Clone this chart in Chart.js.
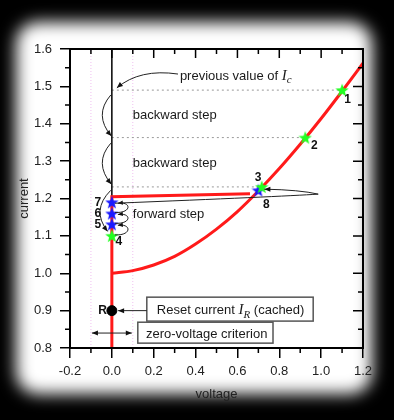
<!DOCTYPE html>
<html>
<head>
<meta charset="utf-8">
<script src="https://cdn.jsdelivr.net/npm/chart.js@4.4.0/dist/chart.umd.min.js"></script>
<style>
  html, body { margin: 0; padding: 0; background: #000; overflow: hidden; }
  #glow { position: absolute; left: 16px; top: 22px; width: 356px; height: 372px; background: #fff; border-radius: 22px; filter: blur(8px); }
  #wrap { position: absolute; left: 0; top: 0; width: 394px; height: 420px; }
</style>
</head>
<body>
<div id="glow"></div>
<div id="wrap"><canvas id="ivChart" width="394" height="420"></canvas></div>
<script>
// Axis ticks
const xTicks = [-0.2, 0.0, 0.2, 0.4, 0.6, 0.8, 1.0, 1.2];
const yTicks = [0.8, 0.9, 1.0, 1.1, 1.2, 1.3, 1.4, 1.5, 1.6];

// Red I-V: zero-voltage branch, then the jump across
const branchV = [0.0, 0.0, 0.66];
const branchI = [0.8, 1.205, 1.213];

// Red I-V: resistive branch
const curveV = [0.0, 0.1, 0.2, 0.3, 0.4, 0.5, 0.6, 0.7, 0.8, 0.9, 1.0, 1.1, 1.2];
const curveI = [1.0, 1.007, 1.022, 1.045, 1.078, 1.118, 1.165, 1.22, 1.28, 1.345, 1.414, 1.487, 1.562];

// Black line above the jump
const upperV = [0.0, 0.0];
const upperI = [1.205, 1.6];

// Steps of the search
const greenLabels = ['1', '2', '3', '4'];
const greenV = [1.1, 0.924, 0.716, 0.0];
const greenI = [1.49, 1.363, 1.231, 1.10];
const blueLabels = ['5', '6', '7', '8'];
const blueV = [0.0, 0.0, 0.0, 0.70];
const blueI = [1.131, 1.16, 1.19, 1.222];

// Reset current point
const resetV = [0.0];
const resetI = [0.9];

// Zero-voltage criterion band
const bandV = [-0.1, 0.1];

const pts = (xs, ys) => xs.map((x, i) => ({ x: x, y: ys[i] }));

function starImage(color) {
    const c = document.createElement('canvas');
    c.width = 14; c.height = 14;
    const g = c.getContext('2d');
    g.beginPath();
    for (let k = 0; k < 10; k++) {
        const r = k % 2 === 0 ? 7 : 2.9;
        const a = -Math.PI / 2 + k * Math.PI / 5;
        g.lineTo(7 + r * Math.cos(a), 7.6 + r * Math.sin(a));
    }
    g.closePath();
    g.fillStyle = color;
    g.fill();
    return c;
}
const greenStar = starImage('#22ff22');
const blueStar = starImage('#1a1aff');

function head(ctx, x, y, fx, fy, len, w) {
    const a = Math.atan2(y - fy, x - fx);
    ctx.beginPath();
    ctx.moveTo(x, y);
    ctx.lineTo(x - len * Math.cos(a) + w * Math.sin(a), y - len * Math.sin(a) - w * Math.cos(a));
    ctx.lineTo(x - len * Math.cos(a) - w * Math.sin(a), y - len * Math.sin(a) + w * Math.cos(a));
    ctx.closePath();
    ctx.fill();
}

function richText(ctx, x, y, parts) {
    ctx.textBaseline = 'alphabetic';
    ctx.textAlign = 'left';
    for (const p of parts) {
        ctx.font = p.font;
        ctx.fillText(p.t, x, y + (p.dy || 0));
        x += ctx.measureText(p.t).width;
    }
    return x;
}

const sans = '13px "Liberation Sans", Arial, sans-serif';
const italI = 'italic 15px "Liberation Serif", "Times New Roman", serif';
const italSub = 'italic 11px "Liberation Serif", "Times New Roman", serif';

// frame, mirrored and minor ticks
const framePlugin = {
    id: 'frame',
    afterDraw(chart) {
        const { ctx, chartArea: a, scales: { x, y } } = chart;
        ctx.save();
        ctx.strokeStyle = '#000';
        ctx.lineWidth = 2;
        ctx.strokeRect(a.left, a.top, a.right - a.left, a.bottom - a.top);
        ctx.lineWidth = 1.5;
        ctx.beginPath();
        xTicks.forEach((v, i) => {
            const px = x.getPixelForValue(v);
            ctx.moveTo(px, a.top); ctx.lineTo(px, a.top + 9);
            if (i > 0) {
                const m = x.getPixelForValue((v + xTicks[i - 1]) / 2);
                ctx.moveTo(m, a.top); ctx.lineTo(m, a.top + 5);
                ctx.moveTo(m, a.bottom); ctx.lineTo(m, a.bottom + 5);
            }
        });
        yTicks.forEach((v, i) => {
            const py = y.getPixelForValue(v);
            ctx.moveTo(a.right, py); ctx.lineTo(a.right - 10, py);
            if (i > 0) {
                const m = y.getPixelForValue((v + yTicks[i - 1]) / 2);
                ctx.moveTo(a.right, m); ctx.lineTo(a.right - 5, m);
                ctx.moveTo(a.left, m); ctx.lineTo(a.left - 5, m);
            }
        });
        ctx.stroke();
        ctx.restore();
    }
};

// text, boxes and arrows
const notesPlugin = {
    id: 'notes',
    afterDatasetsDraw(chart) {
        const { ctx, scales: { x, y } } = chart;
        const X = v => x.getPixelForValue(v);
        const Y = v => y.getPixelForValue(v);
        ctx.save();
        ctx.fillStyle = '#111';
        ctx.strokeStyle = '#333';
        ctx.lineWidth = 1;

        // step labels
        ctx.font = 'bold 12px "Liberation Sans", Arial, sans-serif';
        ctx.textAlign = 'center';
        ctx.textBaseline = 'middle';
        const gOff = [[5.5, 10], [9, 8], [-3.5, -9], [7, 5.5]];
        greenLabels.forEach((t, i) => ctx.fillText(t, X(greenV[i]) + gOff[i][0], Y(greenI[i]) + gOff[i][1]));
        const bOff = [[-14, 0], [-14, 0], [-14, 0], [8, 14]];
        blueLabels.forEach((t, i) => ctx.fillText(t, X(blueV[i]) + bOff[i][0], Y(blueI[i]) + bOff[i][1]));
        ctx.textAlign = 'right';
        ctx.fillText('R', X(resetV[0]) - 5, Y(resetI[0]));

        // plain labels
        ctx.fillStyle = '#1a1a1a';
        richText(ctx, X(0.325), Y(1.530) + 5, [
            { t: 'previous value of ', font: sans },
            { t: 'I', font: italI },
            { t: 'c', font: italSub, dy: 3 }
        ]);
        richText(ctx, X(0.1), Y(1.426) + 5, [{ t: 'backward step', font: sans }]);
        richText(ctx, X(0.1), Y(1.297) + 5, [{ t: 'backward step', font: sans }]);
        richText(ctx, X(0.1), Y(1.161) + 5, [{ t: 'forward step', font: sans }]);

        // boxes
        ctx.strokeStyle = '#555';
        ctx.lineWidth = 1.5;
        const box = (v0, v1, i0, i1) => {
            ctx.fillStyle = '#fff';
            ctx.fillRect(X(v0), Y(i0), X(v1) - X(v0), Y(i1) - Y(i0));
            ctx.strokeRect(X(v0), Y(i0), X(v1) - X(v0), Y(i1) - Y(i0));
        };
        box(0.167, 0.962, 0.936, 0.872);
        box(0.124, 0.770, 0.869, 0.813);
        ctx.fillStyle = '#1a1a1a';
        richText(ctx, X(0.215), Y(0.904) + 5, [
            { t: 'Reset current ', font: sans },
            { t: 'I', font: italI },
            { t: 'R', font: italSub, dy: 4 },
            { t: ' (cached)', font: sans }
        ]);
        richText(ctx, X(0.163), Y(0.841) + 5, [{ t: 'zero-voltage criterion', font: sans }]);

        // arrows
        ctx.strokeStyle = '#222';
        ctx.fillStyle = '#111';
        ctx.lineWidth = 1;
        const ry = Y(resetI[0]);
        ctx.beginPath(); ctx.moveTo(X(0.167), ry); ctx.lineTo(X(0.03), ry); ctx.stroke();
        head(ctx, X(0.03), ry, X(0.1), ry, 6, 2.5);
        const zy = Y(0.84);
        ctx.beginPath(); ctx.moveTo(X(bandV[0]) + 1, zy); ctx.lineTo(X(bandV[1]) - 1, zy); ctx.stroke();
        head(ctx, X(bandV[0]) + 1, zy, X(0), zy, 6, 2.5);
        head(ctx, X(bandV[1]) - 1, zy, X(0), zy, 6, 2.5);

        const quad = (s, c, e) => {
            ctx.beginPath();
            ctx.moveTo(X(s[0]), Y(s[1]));
            ctx.quadraticCurveTo(X(c[0]), Y(c[1]), X(e[0]), Y(e[1]));
            ctx.stroke();
            head(ctx, X(e[0]), Y(e[1]), X(c[0]), Y(c[1]), 6, 2.5);
        };
        quad([0.316, 1.533], [0.134, 1.548], [0.024, 1.496]);
        quad([-0.005, 1.477], [-0.088, 1.423], [-0.002, 1.367]);
        quad([-0.005, 1.348], [-0.088, 1.295], [-0.002, 1.238]);
        quad([-0.005, 1.222], [-0.1, 1.169], [-0.02, 1.112]);

        // small forward loops between stars 4 -> 5 -> 6 -> 7
        const loopI = [greenI[3], blueI[0], blueI[1], blueI[2]];
        for (let k = 0; k < 3; k++) {
            const y0 = Y(loopI[k]) - 1, y1 = Y(loopI[k + 1]) + 1;
            const x0 = X(0) + 3;
            ctx.beginPath();
            ctx.moveTo(x0, y0);
            ctx.bezierCurveTo(x0 + 17, y0 + 1, x0 + 17, y1 - 2, x0 + 3, y1);
            ctx.stroke();
            head(ctx, x0 + 3, y1, x0 + 12, y1 - 1, 5, 2.2);
        }

        // long loop from 7 out and back to 8
        const sx = X(0) + 3, sy = Y(blueI[2]) + 1;
        const tx = X(0.986), ty = Y(1.2117);
        const ex = X(blueV[3]) + 6, ey = Y(1.225);
        ctx.beginPath();
        ctx.moveTo(sx, sy);
        ctx.quadraticCurveTo(X(0.8), Y(1.205), tx, ty);
        ctx.quadraticCurveTo(X(0.9), Y(1.223), ex, ey);
        ctx.stroke();
        head(ctx, ex, ey, ex + 10, ey, 6, 2.5);
        ctx.restore();
    }
};

const tickFont = { family: '"Liberation Sans", Arial, sans-serif', size: 13 };

const chart = new Chart(document.getElementById('ivChart'), {
    type: 'scatter',
    data: {
        datasets: [
            { data: pts(greenV, greenI), pointStyle: greenStar, showLine: false, order: 0 },
            { data: pts(blueV, blueI), pointStyle: blueStar, showLine: false, order: 0 },
            { data: pts(resetV, resetI), pointStyle: 'circle', pointRadius: 5, backgroundColor: '#000', borderColor: '#000', showLine: false, order: 0 },
            { data: pts(branchV, branchI), showLine: true, borderColor: '#ff1a1a', borderWidth: 3, pointRadius: 0, order: 1 },
            { data: pts(curveV, curveI), showLine: true, borderColor: '#ff1a1a', borderWidth: 3, pointRadius: 0, cubicInterpolationMode: 'monotone', order: 1 },
            { data: pts(upperV, upperI), showLine: true, borderColor: '#000', borderWidth: 1.5, pointRadius: 0, order: 2 },
            { data: pts([0, greenV[0]], [greenI[0], greenI[0]]), showLine: true, borderColor: '#999', borderWidth: 1, borderDash: [2, 3], pointRadius: 0, order: 3 },
            { data: pts([0, greenV[1]], [greenI[1], greenI[1]]), showLine: true, borderColor: '#999', borderWidth: 1, borderDash: [2, 3], pointRadius: 0, order: 3 },
            { data: pts([0, greenV[2]], [greenI[2], greenI[2]]), showLine: true, borderColor: '#999', borderWidth: 1, borderDash: [2, 3], pointRadius: 0, order: 3 },
            { data: pts([bandV[0], bandV[0]], [0.8, 1.6]), showLine: true, borderColor: '#f0c0f0', borderWidth: 1, borderDash: [1, 2], pointRadius: 0, order: 4 },
            { data: pts([bandV[1], bandV[1]], [0.8, 1.6]), showLine: true, borderColor: '#f0c0f0', borderWidth: 1, borderDash: [1, 2], pointRadius: 0, order: 4 }
        ]
    },
    options: {
        responsive: false,
        animation: false,
        events: [],
        layout: { padding: { top: 49, right: 31, left: 0, bottom: 0 } },
        plugins: { legend: { display: false }, tooltip: { enabled: false } },
        scales: {
            x: {
                type: 'linear', min: -0.2, max: 1.2,
                afterBuildTicks: s => { s.ticks = xTicks.map(v => ({ value: v })); },
                afterFit: s => { s.height = 72; },
                ticks: { callback: v => v.toFixed(1), font: tickFont, color: '#222', padding: 6, maxRotation: 0, autoSkip: false },
                grid: { drawOnChartArea: false, tickLength: 10, color: '#000', lineWidth: 1.5 },
                border: { color: '#000', width: 2 },
                title: { display: true, text: 'voltage', font: tickFont, color: '#222', padding: { top: 0, bottom: 18 } }
            },
            y: {
                type: 'linear', min: 0.8, max: 1.6,
                afterBuildTicks: s => { s.ticks = yTicks.map(v => ({ value: v })); },
                afterFit: s => { s.width = 70; },
                ticks: { callback: v => v.toFixed(1), font: tickFont, color: '#222', padding: 8, autoSkip: false },
                grid: { drawOnChartArea: false, tickLength: 10, color: '#000', lineWidth: 1.5 },
                border: { color: '#000', width: 2 },
                title: { display: true, text: 'current', font: tickFont, color: '#222', padding: { top: 17, bottom: 0 } }
            }
        }
    },
    plugins: [notesPlugin, framePlugin]
});
</script>
</body>
</html>
